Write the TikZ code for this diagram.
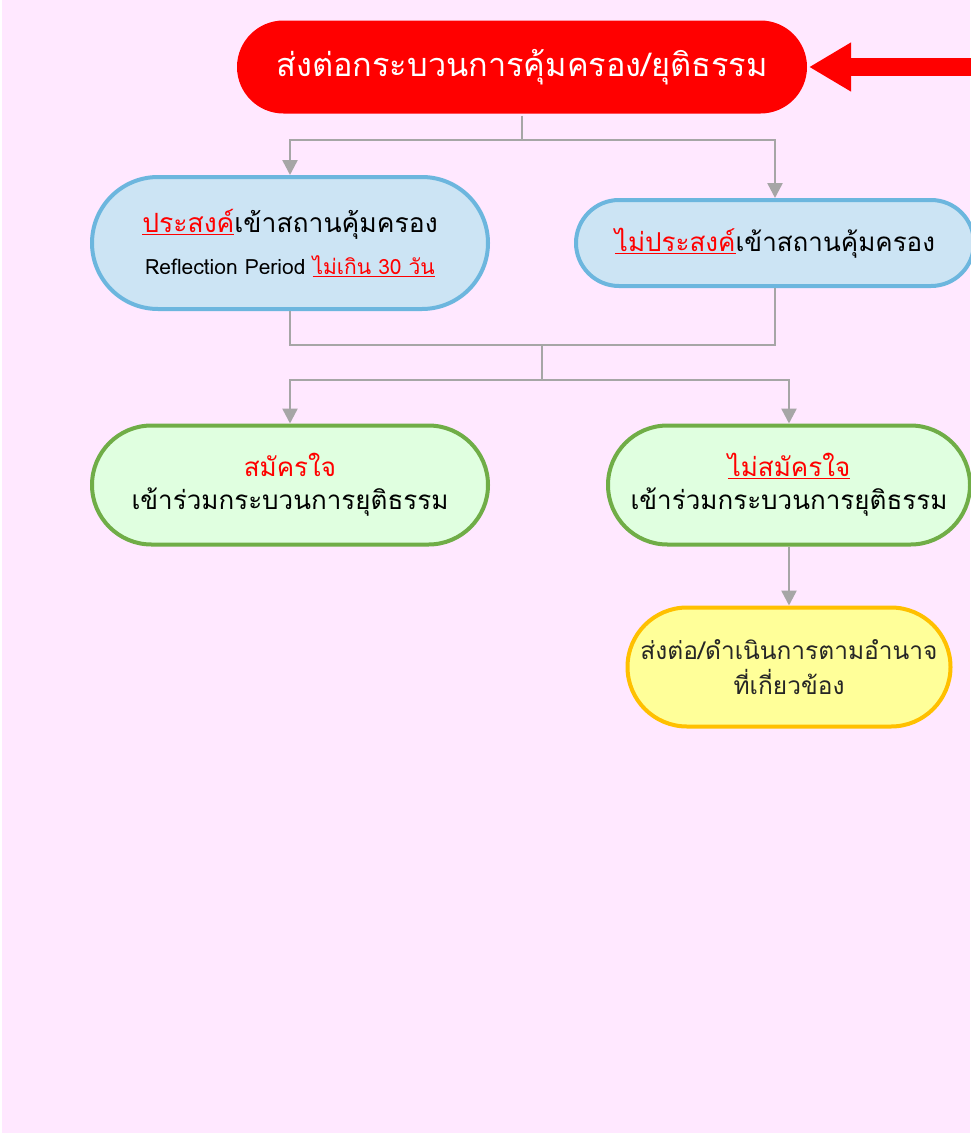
\documentclass[tikz,border=0pt]{standalone}
\usepackage{fontspec}
\usepackage{xcolor}
\usepackage{tikz}
\usetikzlibrary{arrows.meta,positioning,shapes.misc}
\newfontfamily\thaifont[Script=Thai]{Loma}
\definecolor{bgpink}{HTML}{FFE8FF}
\definecolor{linkgray}{HTML}{A6A6A6}
\definecolor{bluefill}{HTML}{CCE4F4}
\definecolor{blueline}{HTML}{6CB6DE}
\definecolor{greenfill}{HTML}{E0FFE0}
\definecolor{greenline}{HTML}{70AD47}
\definecolor{yelfill}{HTML}{FFFF99}
\definecolor{yelline}{HTML}{FFC000}
\newcommand{\redul}[1]{\textcolor{red}{\underline{#1}}}

\begin{document}
\begin{tikzpicture}[x=1pt,y=-1pt,every node/.style={font=\thaifont,align=center},
  capsule/.style={rounded rectangle,line width=4pt,inner sep=0pt},
  link/.style={draw=linkgray,line width=2.5pt},
  linkarr/.style={link,-{Triangle[length=15pt,width=15pt]}}]
  \useasboundingbox (0,0) rectangle (970,1135);
  \fill[bgpink] (2,0) rectangle (970,1133);
  % boxes
  \node[capsule,fill=red,minimum width=570,minimum height=93,text=white,font=\thaifont\fontsize{32.5}{40}\selectfont]
    (title) at (522,67) {ส่งต่อกระบวนการคุ้มครอง/ยุติธรรม};
  \node[capsule,fill=bluefill,draw=blueline,minimum width=396,minimum height=132]
    (pl) at (290,243) {{\fontsize{26.5}{32}\selectfont\redul{ประสงค์}เข้าสถานคุ้มครอง}\\[15pt]
    {\fontsize{21}{26}\selectfont Reflection Period \redul{ไม่เกิน 30 วัน}}};
  \node[capsule,fill=bluefill,draw=blueline,minimum width=398,minimum height=86,font=\thaifont\fontsize{26}{32}\selectfont]
    (pr) at (775,243) {\redul{ไม่ประสงค์}เข้าสถานคุ้มครอง};
  \node[capsule,fill=greenfill,draw=greenline,minimum width=396,minimum height=119,font=\thaifont\fontsize{26}{33}\selectfont]
    (gl) at (290,485) {\textcolor{red}{สมัครใจ}\\เข้าร่วมกระบวนการยุติธรรม};
  \node[capsule,fill=greenfill,draw=greenline,minimum width=362,minimum height=119,font=\thaifont\fontsize{26}{33}\selectfont]
    (gr) at (789,485) {\redul{ไม่สมัครใจ}\\เข้าร่วมกระบวนการยุติธรรม};
  \node[capsule,fill=yelfill,draw=yelline,minimum width=323,minimum height=119,text=black!85,font=\thaifont\fontsize{24.5}{35}\selectfont]
    (act) at (789,667) {ส่งต่อ/ดำเนินการตามอำนาจ\\ที่เกี่ยวข้อง};
  % connectors
  \coordinate (src) at (975,67);
  \coordinate (top) at (522,140);
  \coordinate (mid) at (542,345);
  \coordinate (split) at (542,380);
  \draw[red,line width=18pt,-{Triangle[length=42pt,width=46pt]}] (src) -- (title.east);
  \draw[link] (title.south) -- (top);
  \draw[linkarr] (top) -| (pl.north);
  \draw[linkarr] (top) -| (pr.north);
  \draw[link] (pl.south) |- (mid) -| (pr.south);
  \draw[link] (mid) -- (split);
  \draw[linkarr] (split) -| (gl.north);
  \draw[linkarr] (split) -| (gr.north);
  \draw[linkarr] (gr.south) -- (act.north);
\end{tikzpicture}
\end{document}
